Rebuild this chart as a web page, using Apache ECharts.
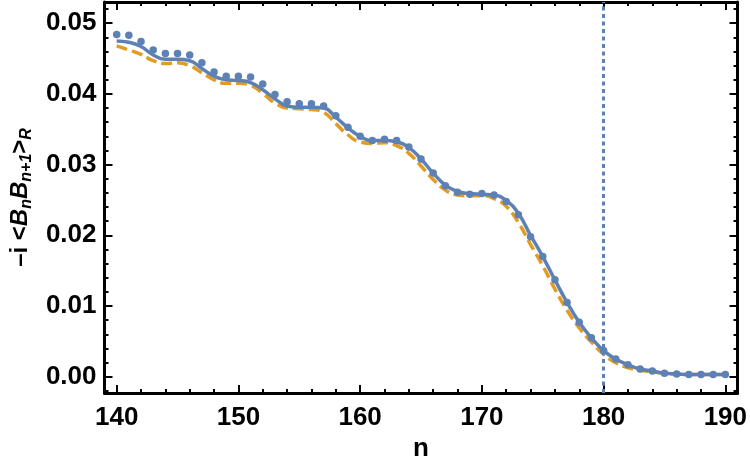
<!DOCTYPE html>
<html>
<head>
<meta charset="utf-8">
<script src="https://cdn.jsdelivr.net/npm/echarts@6/dist/echarts.min.js"></script>
<style>
  html, body { margin: 0; padding: 0; background: #fff; }
  #chart { width: 750px; height: 475px; }
</style>
</head>
<body>
<div id="chart"></div>
<script>
// n = 140 ... 190
const nValues = [140, 141, 142, 143, 144, 145, 146, 147, 148, 149,
  150, 151, 152, 153, 154, 155, 156, 157, 158, 159,
  160, 161, 162, 163, 164, 165, 166, 167, 168, 169,
  170, 171, 172, 173, 174, 175, 176, 177, 178, 179,
  180, 181, 182, 183, 184, 185, 186, 187, 188, 189, 190];

// dots
const dotValues = [0.0484, 0.0483, 0.0474, 0.0462, 0.0457, 0.0457, 0.0455, 0.0444, 0.0431, 0.0425,
  0.0425, 0.0424, 0.0414, 0.0399, 0.0389, 0.0386, 0.0386, 0.0383, 0.0369, 0.0353,
  0.0340, 0.0334, 0.0336, 0.0334, 0.0325, 0.0308, 0.0288, 0.0270, 0.0261, 0.0258,
  0.0259, 0.0257, 0.0248, 0.0229, 0.0198, 0.0170, 0.0137, 0.0105, 0.0077, 0.0055,
  0.0037, 0.0025, 0.0017, 0.0011, 0.0008, 0.0005, 0.0004, 0.0003, 0.0003, 0.0003, 0.0003];

// solid blue curve
const solidValues = [0.0475, 0.0473, 0.0467, 0.0455, 0.0449, 0.0449, 0.0447, 0.0436, 0.0425, 0.0420,
  0.0419, 0.0416, 0.0406, 0.0393, 0.0383, 0.0381, 0.0381, 0.0380, 0.0367, 0.0352,
  0.0340, 0.0334, 0.0334, 0.0332, 0.0324, 0.0308, 0.0288, 0.0271, 0.0262, 0.0259,
  0.0258, 0.0257, 0.0249, 0.0231, 0.0200, 0.0170, 0.0137, 0.0105, 0.0077, 0.0055,
  0.0037, 0.0025, 0.0017, 0.0011, 0.0008, 0.0005, 0.0004, 0.0003, 0.0003, 0.0003, 0.0003];

// dashed orange curve
const dashedValues = [0.0468, 0.0462, 0.0456, 0.0447, 0.0443, 0.0444, 0.0440, 0.0430, 0.0420, 0.0415,
  0.0415, 0.0412, 0.0401, 0.0387, 0.0380, 0.0379, 0.0378, 0.0374, 0.0358, 0.0342,
  0.0332, 0.0330, 0.0331, 0.0327, 0.0316, 0.0298, 0.0279, 0.0264, 0.0257, 0.0256,
  0.0256, 0.0252, 0.0241, 0.0218, 0.0187, 0.0157, 0.0124, 0.0094, 0.0069, 0.0049,
  0.0032, 0.0020, 0.0013, 0.0009, 0.0007, 0.0005, 0.0004, 0.0003, 0.0003, 0.0003, 0.0003];

const cutoffN = 180;

const xMajorTicks = [140, 150, 160, 170, 180, 190];
const yMajorTicks = [0, 0.01, 0.02, 0.03, 0.04, 0.05];

// minor ticks every 2 in n, every 0.002 in y
const xMinorTicks = [];
for (let v = 140; v <= 190; v += 2) if (v % 10 !== 0) xMinorTicks.push(v);
const yMinorTicks = [];
for (let k = -1; k <= 26; k++) if (k % 5 !== 0) yMinorTicks.push(+(k * 0.002).toFixed(3));

const BLUE = '#5E81B5';
const ORANGE = '#E19C24';
const FONT = 'Liberation Sans';

const pairs = vals => nValues.map((n, i) => [n, vals[i]]);

function xAxisDef(pos, ticks, len, labels) {
  return {
    type: 'value', min: 139, max: 191, position: pos,
    axisLine: { show: len > 5, onZero: false, lineStyle: { color: '#000', width: 3 } },
    axisTick: { inside: true, length: len, customValues: ticks, lineStyle: { color: '#000', width: 2 } },
    axisLabel: labels ? {
      customValues: ticks, margin: 12, color: '#000',
      fontSize: 26, fontWeight: 'bold', fontFamily: FONT
    } : { show: false },
    splitLine: { show: false }
  };
}

function yAxisDef(pos, ticks, len, labels) {
  return {
    type: 'value', min: -0.0023, max: 0.053, position: pos,
    axisLine: { show: len > 5, onZero: false, lineStyle: { color: '#000', width: 3 } },
    axisTick: { inside: true, length: len, customValues: ticks, lineStyle: { color: '#000', width: 2 } },
    axisLabel: labels ? {
      customValues: ticks, margin: 8, color: '#000',
      fontSize: 26, fontWeight: 'bold', fontFamily: FONT,
      formatter: v => v.toFixed(2)
    } : { show: false },
    splitLine: { show: false }
  };
}

const chart = echarts.init(document.getElementById('chart'));

const xBottom = xAxisDef('bottom', xMajorTicks, 8, true);
xBottom.name = 'n';
xBottom.nameLocation = 'middle';
xBottom.nameGap = 37;
xBottom.nameTextStyle = { fontSize: 26, fontWeight: 'bold', color: '#000', fontFamily: FONT };

const yLeft = yAxisDef('left', yMajorTicks, 8, true);
yLeft.name = '{t|\u2013i <}{b|B}{s|n}{b|B}{s|n+1}{t|>}{s|R}';
yLeft.nameLocation = 'middle';
yLeft.nameRotate = 90;
yLeft.nameGap = 40;
yLeft.nameTextStyle = {
  color: '#000', fontFamily: FONT, fontWeight: 'bold', fontSize: 24,
  rich: {
    t: { fontSize: 24, fontWeight: 'bold', fontFamily: FONT, color: '#000', lineHeight: 30 },
    b: { fontSize: 24, fontWeight: 'bold', fontStyle: 'italic', fontFamily: FONT, color: '#000', lineHeight: 30 },
    s: { fontSize: 16, fontWeight: 'bold', fontStyle: 'italic', fontFamily: FONT, color: '#000',
         lineHeight: 16, verticalAlign: 'bottom' }
  }
};

const option = {
  animation: false,
  backgroundColor: '#fff',
  grid: { left: 103, right: 12, top: 2, bottom: 82, containLabel: false },
  xAxis: [
    xBottom,
    xAxisDef('bottom', xMinorTicks, 4, false),
    xAxisDef('top', xMajorTicks, 8, false),
    xAxisDef('top', xMinorTicks, 4, false)
  ],
  yAxis: [
    yLeft,
    yAxisDef('left', yMinorTicks, 4, false),
    yAxisDef('right', yMajorTicks, 8, false),
    yAxisDef('right', yMinorTicks, 4, false)
  ],
  series: [
    {
      name: 'dashed',
      type: 'line',
      data: pairs(dashedValues),
      smooth: 0.5,
      showSymbol: false,
      lineStyle: { color: ORANGE, width: 3.5, type: [11, 5] },
      z: 2,
      markLine: {
        silent: true,
        symbol: 'none',
        label: { show: false },
        lineStyle: { color: BLUE, width: 3, type: [4, 3.5] },
        data: [{ xAxis: cutoffN }]
      }
    },
    {
      name: 'solid',
      type: 'line',
      data: pairs(solidValues),
      smooth: 0.5,
      showSymbol: false,
      lineStyle: { color: BLUE, width: 3.5 },
      z: 3
    },
    {
      name: 'dots',
      type: 'scatter',
      data: pairs(dotValues),
      symbolSize: 7.5,
      itemStyle: { color: BLUE, opacity: 1 },
      z: 4
    }
  ]
};

chart.setOption(option);
</script>
</body>
</html>
